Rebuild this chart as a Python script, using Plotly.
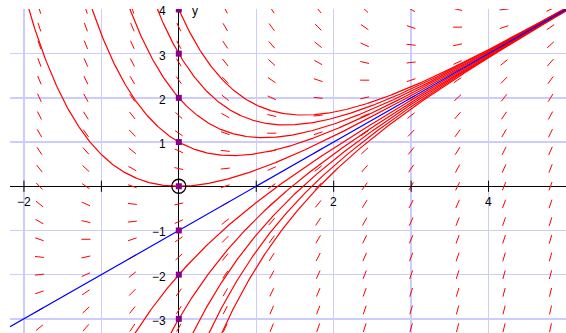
import numpy as np
import plotly.graph_objects as go

# ---- data ----
# direction field of dy/dx = x - y, sampled on this grid
field_x = [-1.8, -1.2, -0.6, 0.0, 0.6, 1.2, 1.8, 2.4, 3.0, 3.6, 4.2, 4.8]
field_y = [-3.2, -2.8, -2.4, -2.0, -1.6, -1.2, -0.8, -0.4, 0.0, 0.4, 0.8,
           1.2, 1.6, 2.0, 2.4, 2.8, 3.2, 3.6, 4.0]
# solution curves, given by their value at x = 0
red_start_y = [4, 3, 2, 1, 0, -2, -3, -4, -5, -6]
blue_start_y = -1
# initial-value markers on the y axis
marker_y = [-3, -2, -1, 0, 1, 2, 3, 4]
# axis ticks and labels
x_tick_vals = [-2, -1, 1, 2, 3, 4]
x_label_vals = [-2, 2, 4]
x_label_text = ["−2", "2", "4"]
y_label_vals = [-3, -2, -1, 1, 2, 3, 4]
y_label_text = ["−3", "−2", "−1", "1", "2", "3", "4"]

# ---- layout geometry ----
W, H = 566, 333
ML, MR, MT, MB = 10, 0, 9, 0
X0, X1 = -2.18, 5.0
Y0, Y1 = -3.32, 4.0
kx = (W - ML - MR) / (X1 - X0)
ky = (H - MT - MB) / (Y1 - Y0)
HALF = 4.5  # half segment length in px

def slope(x, y):
    return x - y

seg_x, seg_y = [], []
for xv in field_x:
    for yv in field_y:
        m = slope(xv, yv)
        px, py = 1.0, m * ky / kx
        n = np.hypot(px, py)
        dx = HALF * px / n / kx
        dy = HALF * py / n / ky
        seg_x += [xv - dx, xv + dx, None]
        seg_y += [yv - dy, yv + dy, None]

fig = go.Figure()
fig.add_trace(go.Scatter(x=seg_x, y=seg_y, mode="lines",
                         line=dict(color="#ff0000", width=1),
                         hoverinfo="skip", showlegend=False))

xs = np.linspace(X0, X1, 600)
for y0 in red_start_y:
    ys = xs - 1 + (y0 + 1) * np.exp(-xs)
    fig.add_trace(go.Scatter(x=xs, y=ys, mode="lines",
                             line=dict(color="#ff0000", width=1.2),
                             hoverinfo="skip", showlegend=False))
ys = xs - 1 + (blue_start_y + 1) * np.exp(-xs)
fig.add_trace(go.Scatter(x=xs, y=ys, mode="lines",
                         line=dict(color="#0000ff", width=1.2),
                         hoverinfo="skip", showlegend=False))

# tick marks on the x axis
fig.add_trace(go.Scatter(x=x_tick_vals, y=[0] * len(x_tick_vals), mode="markers",
                         marker=dict(symbol="line-ns", size=8,
                                     line=dict(color="black", width=1)),
                         hoverinfo="skip", showlegend=False))
# purple initial points
fig.add_trace(go.Scatter(x=[0] * len(marker_y), y=marker_y, mode="markers",
                         marker=dict(symbol="square", size=6, color="#8b008b"),
                         hoverinfo="skip", showlegend=False))
# open circle at origin
fig.add_trace(go.Scatter(x=[0], y=[0], mode="markers",
                         marker=dict(symbol="circle-open", size=14, color="black",
                                     line=dict(color="black", width=1.3)),
                         hoverinfo="skip", showlegend=False))

annotations = []
font = dict(family="Liberation Sans, Arial, sans-serif", size=12, color="black")
for v, t in zip(x_label_vals, x_label_text):
    annotations.append(dict(x=v, y=0, xref="x", yref="y", text=t, showarrow=False,
                            xanchor="center", yanchor="middle", yshift=-16, font=font))
for v, t in zip(y_label_vals, y_label_text):
    annotations.append(dict(x=0, y=v, xref="x", yref="y", text=t, showarrow=False,
                            xanchor="right", yanchor="middle", xshift=-11, yshift=-2,
                            font=font))
annotations.append(dict(x=0, y=Y1, xref="x", yref="y", text="y", showarrow=False,
                        xanchor="center", yanchor="middle", xshift=16, yshift=-2,
                        font=font))

grid = "rgb(204,204,255)"
fig.update_layout(
    width=W, height=H,
    margin=dict(l=ML, r=MR, t=MT, b=MB, pad=0),
    paper_bgcolor="white", plot_bgcolor="white",
    annotations=annotations,
    hovermode=False,
    xaxis=dict(range=[X0, X1], dtick=1, tick0=0, showgrid=True, gridcolor=grid,
               gridwidth=1.5, zeroline=True, zerolinecolor="black", zerolinewidth=1,
               showticklabels=False, ticks="", showline=False, fixedrange=True),
    yaxis=dict(range=[Y0, Y1 + 0.01], dtick=1, tick0=0, showgrid=True, gridcolor=grid,
               gridwidth=1.5, zeroline=True, zerolinecolor="black", zerolinewidth=1,
               showticklabels=False, ticks="", showline=False, fixedrange=True),
)

# remove the browser's default 8px body margin so the figure fills the window
fig.write_html("out.html",
               config={"displayModeBar": False, "staticPlot": True},
               post_script="document.body.style.margin='0px';document.body.style.overflow='hidden';")
